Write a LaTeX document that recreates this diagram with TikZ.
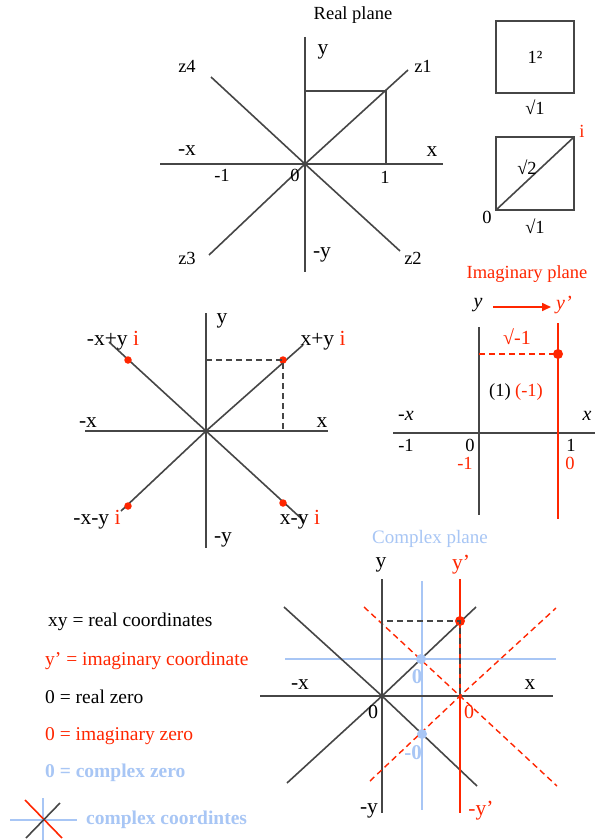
\documentclass[tikz,border=0pt]{standalone}
\usepackage{fontspec}
\setmainfont{Liberation Serif}
\usetikzlibrary{arrows.meta}
\definecolor{cred}{RGB}{255,38,0}
\definecolor{cblue}{RGB}{168,198,245}
\definecolor{cgray}{RGB}{70,70,70}
\newcommand{\fsz}[1]{\fontsize{#1}{#1}\selectfont}
\begin{document}
\begin{tikzpicture}[x=1pt,y=-1pt,
  ax/.style={draw=cgray,line width=1.6pt},
  rax/.style={draw=cred,line width=1.6pt},
  bax/.style={draw=cblue,line width=1.6pt},
  dsh/.style={dash pattern=on 6pt off 4pt},
  lbl/.style={font=\fsz{18.5},inner sep=0pt,text=black},
  big/.style={font=\fsz{21.5}},
  rlbl/.style={lbl,text=cred},
  blbl/.style={lbl,text=cblue},
  leg/.style={lbl,anchor=west,font=\fsz{19.5}},
  rdot/.style={circle,fill=cred,inner sep=0pt,minimum size=#1},
  bdot/.style={circle,fill=cblue,inner sep=0pt,minimum size=#1}]
\useasboundingbox (0,0) rectangle (595,840);
\fill[white] (0,0) rectangle (595,840);

% ---------- Real plane ----------
\node[lbl] (t1) at (353,15) {Real plane};
\coordinate (O1) at (305,164);
\coordinate (yT1) at (305,37); \coordinate (yB1) at (305,272);
\coordinate (xL1) at (160,164); \coordinate (xR1) at (443,164);
\coordinate (z1e) at (408,70); \coordinate (z3e) at (209,255);
\coordinate (z4e) at (211,77); \coordinate (z2e) at (400,251);
\coordinate (sqTL) at (305,91); \coordinate (sqTR) at (386,91); \coordinate (sqBR) at (386,164);
\draw[ax] (yT1) -- (yB1);
\draw[ax] (xL1) -- (xR1);
\draw[ax] (O1) -- (z1e);
\draw[ax] (O1) -- (z3e);
\draw[ax] (z4e) -- (O1) -- (z2e);
\draw[ax] (sqTL) -- (sqTR) -- (sqBR);
\node[lbl,big] (ly1) at (323,52) {y};
\node[lbl] (lz1) at (423,66) {z1};
\node[lbl] (lz4) at (187,66) {z4};
\node[lbl,big] (lmx1) at (187,151) {-x};
\node[lbl,big] (lx1) at (432,152) {x};
\node[lbl] (lm11) at (222,175) {-1};
\node[lbl] (l01) at (295,175) {0};
\node[lbl] (l11) at (385,177) {1};
\node[lbl] (lz3) at (187,258) {z3};
\node[lbl,big] (lmy1) at (322,255) {-y};
\node[lbl] (lz2) at (413,258) {z2};

% ---------- squares ----------
\coordinate (b1a) at (496,21); \coordinate (b1b) at (574,93);
\draw[ax] (b1a) rectangle (b1b);
\node[lbl] (sq1) at (535,57) {1²};
\node[lbl] (sr1) at (535,107) {√1};
\coordinate (b2a) at (496,137); \coordinate (b2b) at (574,210);
\coordinate (b2bl) at (496,210); \coordinate (b2tr) at (574,137);
\draw[ax] (b2a) rectangle (b2b);
\draw[ax] (b2bl) -- (b2tr);
\node[rlbl] (li2) at (582,131) {i};
\node[lbl] (sr2) at (527,167) {√2};
\node[lbl] (l02) at (487,217) {0};
\node[lbl] (sr3) at (535,226) {√1};

% ---------- middle-left plane ----------
\coordinate (O2) at (206,431);
\coordinate (yT2) at (206,313); \coordinate (yB2) at (206,548);
\coordinate (xL2) at (85,431); \coordinate (xR2) at (328,431);
\coordinate (ne2) at (303,345); \coordinate (sw2) at (121,511);
\coordinate (nw2) at (109,342); \coordinate (se2) at (304,521);
\coordinate (dyl) at (206,360); \coordinate (dxb) at (283,431);
\draw[ax] (yT2) -- (yB2);
\draw[ax] (xL2) -- (xR2);
\draw[ax] (sw2) -- (O2) -- (ne2);
\draw[ax] (nw2) -- (O2) -- (se2);
\node[rdot=7.5pt] (d1) at (283,360) {};
\node[rdot=7.5pt] (d2) at (128,360) {};
\node[rdot=7.5pt] (d3) at (128,506) {};
\node[rdot=7.5pt] (d4) at (283,503) {};
\draw[ax,line width=1.2pt,dsh] (dyl) -- (d1.center) -- (dxb);
\node[lbl,big] (ly2) at (222,321) {y};
\node[lbl,big] (lpp) at (323,341) {x+y \textcolor{cred}{i}};
\node[lbl,big] (lmp) at (113,341) {-x+y \textcolor{cred}{i}};
\node[lbl,big] (lmx2) at (88,423) {-x};
\node[lbl,big] (lx2) at (322,423) {x};
\node[lbl,big] (lmm) at (97,520) {-x-y \textcolor{cred}{i}};
\node[lbl,big] (lpm) at (300,520) {x-y \textcolor{cred}{i}};
\node[lbl,big] (lmy2) at (223,540) {-y};

% ---------- Imaginary plane ----------
\node[rlbl] (t2) at (527,274) {Imaginary plane};
\node[lbl,font=\fsz{20}\itshape] (iy) at (478,305) {y};
\node[rlbl,font=\fsz{20}\itshape] (iyp) at (564,305) {y’};
\draw[draw=cred,line width=1.6pt,-{Triangle[length=9pt,width=8pt]}] (493,307) -- (551,307);
\coordinate (iyT) at (479,327); \coordinate (iyB) at (479,515);
\coordinate (irT) at (558,323); \coordinate (irB) at (558,519);
\coordinate (ixL) at (393,433); \coordinate (ixR) at (595,433);
\coordinate (idl) at (479,354);
\draw[ax] (iyT) -- (iyB);
\draw[ax] (ixL) -- (ixR);
\draw[rax] (irT) -- (irB);
\node[rdot=10pt] (id) at (558,354) {};
\draw[rax,line width=1.4pt,dsh] (idl) -- (id.center);
\node[rlbl,font=\fsz{20}] (isq) at (517,337) {√-1};
\node[lbl] (i1) at (500,392) {(1)};
\node[rlbl] (im1) at (529,392) {(-1)};
\node[lbl,font=\fsz{20}\itshape] (imx) at (406,416) {-x};
\node[lbl,font=\fsz{20}\itshape] (ix) at (587,416) {x};
\node[lbl] (in1) at (406,445) {-1};
\node[lbl] (i0) at (470,445) {0};
\node[lbl] (ip1) at (571,445) {1};
\node[rlbl] (irn1) at (465,463) {-1};
\node[rlbl] (ir0) at (570,463) {0};

% ---------- Complex plane ----------
\node[blbl,font=\fsz{19}] (t3) at (430,539) {Complex plane};
\coordinate (O3) at (382,696);
\coordinate (R3) at (460,696);
\coordinate (cyT) at (382,579); \coordinate (cyB) at (382,813);
\coordinate (cbT) at (422,581); \coordinate (cbB) at (422,810);
\coordinate (crT) at (460,579); \coordinate (crB) at (460,813);
\coordinate (cxL) at (260,696); \coordinate (cxR) at (553,696);
\coordinate (cbL) at (285,659); \coordinate (cbR) at (556,659);
\coordinate (cne) at (476,607); \coordinate (csw) at (287,783);
\coordinate (cnw) at (284,607); \coordinate (cse) at (477,786);
\coordinate (rne) at (556,608); \coordinate (rsw) at (370,781);
\coordinate (rnw) at (364,607); \coordinate (rse) at (557,786);
\coordinate (cdl) at (382,621);
\draw[bax] (cbT) -- (cbB);
\draw[bax] (cbL) -- (cbR);
\draw[ax] (cyT) -- (cyB);
\draw[ax] (cxL) -- (cxR);
\draw[ax] (csw) -- (O3) -- (cne);
\draw[ax] (cnw) -- (O3) -- (cse);
\draw[rax] (crT) -- (crB);
\draw[rax,line width=1.4pt,dsh] (rsw) -- (R3) -- (rne);
\draw[rax,line width=1.4pt,dsh] (rnw) -- (R3) -- (rse);
\node[rdot=10pt] (cd) at (460,621) {};
\draw[ax,line width=1.4pt,dsh] (O3) -- (cdl) -- (cd.center) -- (R3) -- cycle;
\node[bdot=10pt] (bd1) at (421,659) {};
\node[bdot=10pt] (bd2) at (422,734) {};
\node[lbl,big] (cy) at (381,565) {y};
\node[rlbl,big] (cyp) at (461,565) {y’};
\node[lbl,big] (cmx) at (300,685) {-x};
\node[lbl,big] (cx) at (530,685) {x};
\node[blbl,font=\fsz{21}\bfseries] (cb0) at (417,677) {0};
\node[blbl,font=\fsz{21}\bfseries] (cbm0) at (413,753) {-0};
\node[lbl,font=\fsz{20}] (c0) at (373,712) {0};
\node[rlbl,font=\fsz{20}] (cr0) at (469,712) {0};
\node[lbl,big] (cmy) at (369,811) {-y};
\node[rlbl,big] (cmyp) at (481,811) {-y’};

% ---------- legend ----------
\node[leg] (g1) at (48,622) {xy = real coordinates};
\node[leg,text=cred] (g2) at (45,661) {y’ = imaginary coordinate};
\node[leg] (g3) at (45,697) {0 = real zero};
\node[leg,text=cred] (g4) at (45,736) {0 = imaginary zero};
\node[leg,text=cblue,font=\fsz{19.5}\bfseries] (g5) at (45,773) {0 = complex zero};
\coordinate (gh1) at (10,820); \coordinate (gh2) at (77,820);
\coordinate (gv1) at (43,798); \coordinate (gv2) at (43,840);
\coordinate (gr1) at (25,800); \coordinate (gr2) at (62,838);
\coordinate (gk1) at (60,803); \coordinate (gk2) at (26,838);
\draw[bax] (gh1) -- (gh2);
\draw[bax] (gv1) -- (gv2);
\draw[rax] (gr1) -- (gr2);
\draw[ax] (gk1) -- (gk2);
\node[leg,text=cblue,font=\fsz{19.5}\bfseries] (g6) at (86,820) {complex coordintes};
\end{tikzpicture}
\end{document}
